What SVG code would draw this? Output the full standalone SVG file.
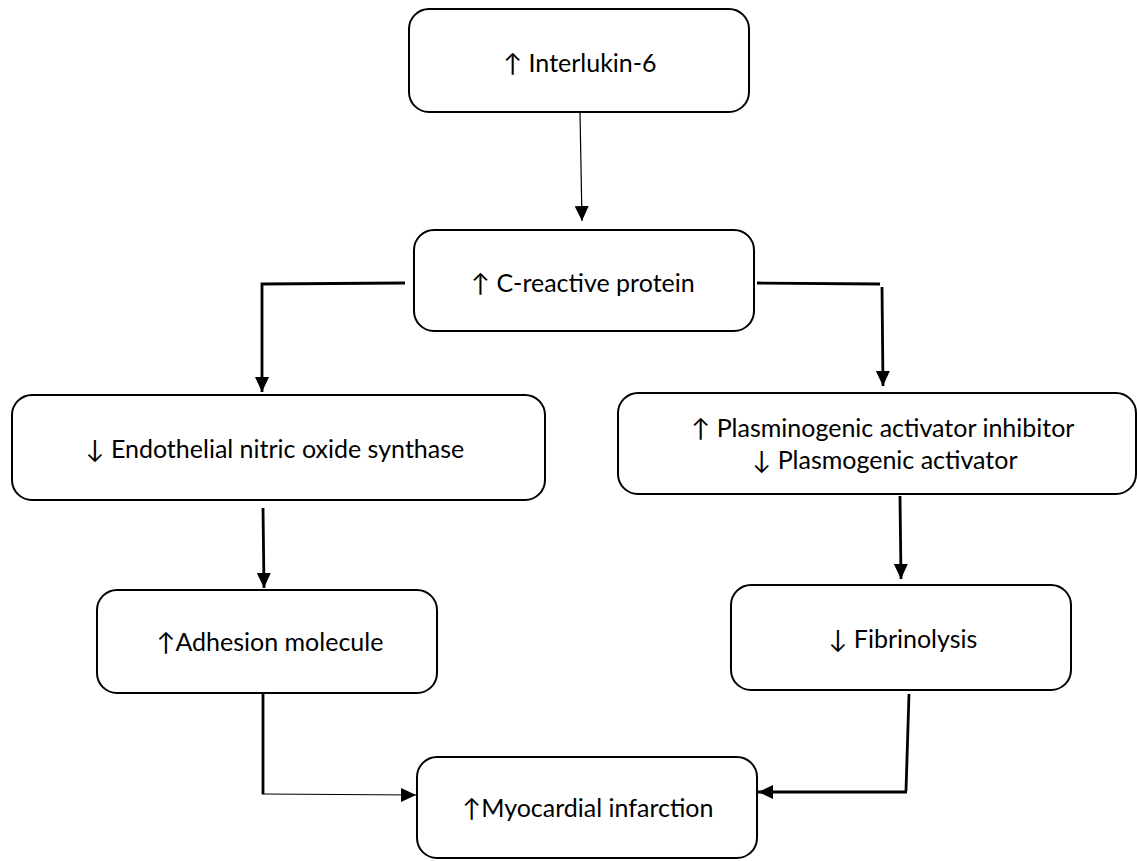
<svg xmlns="http://www.w3.org/2000/svg" width="1137" height="861" viewBox="0 0 1137 861">
<style>
.box{fill:#fff;stroke:#000;stroke-width:2}
.t{font-family:Lato,"Open Sans",sans-serif;font-size:25px;fill:#000;text-anchor:middle}
.thick{fill:none;stroke:#000;stroke-width:2.8}
.thin{fill:none;stroke:#000;stroke-width:1.2}
</style>
<defs>
<marker id="ah" markerUnits="userSpaceOnUse" markerWidth="16" markerHeight="16" viewBox="0 0 16 16" refX="15" refY="8" orient="auto">
<path d="M0,1 L15,8 L0,15 Z" fill="#000"/>
</marker>
</defs>
<rect width="1137" height="861" fill="#fff"/>
<g id="connectors">
<path class="thin" d="M580,113 L582,221" marker-end="url(#ah)" stroke="#333"/>
<path class="thick" d="M405,283 L262,284 L262,392" marker-end="url(#ah)"/>
<path class="thick" d="M757,283 L880,284"/>
<path class="thick" d="M882,287 L883,386" marker-end="url(#ah)"/>
<path class="thick" d="M263,508 L264,588" marker-end="url(#ah)"/>
<path class="thick" d="M900,496 L901,579" marker-end="url(#ah)"/>
<path class="thick" d="M263,693 L263,794"/>
<path class="thin" d="M262,794 L416,795" marker-end="url(#ah)"/>
<path class="thick" d="M909,694 L906,791"/>
<path class="thick" d="M907,792 L758,792" marker-end="url(#ah)"/>
</g>
<g id="n1"><rect class="box" x="409" y="9" width="340" height="103" rx="20"/><text class="t" x="580" y="72">↑ Interlukin-6</text></g>
<g id="n2"><rect class="box" x="414" y="230" width="340" height="101" rx="20"/><text class="t" x="583" y="292">↑ C-reactive protein</text></g>
<g id="n3"><rect class="box" x="12" y="395" width="533" height="105" rx="20"/><text class="t" x="275" y="458">↓ Endothelial nitric oxide synthase</text></g>
<g id="n4"><rect class="box" x="618" y="393" width="518" height="101" rx="20"/><text class="t" x="883" y="437">↑ Plasminogenic activator inhibitor</text><text class="t" x="885" y="469">↓ Plasmogenic activator</text></g>
<g id="n5"><rect class="box" x="97" y="590" width="340" height="103" rx="20"/><text class="t" x="270" y="651">↑Adhesion molecule</text></g>
<g id="n6"><rect class="box" x="731" y="585" width="340" height="105" rx="20"/><text class="t" x="903" y="648">↓ Fibrinolysis</text></g>
<g id="n7"><rect class="box" x="417" y="757" width="340" height="101" rx="20"/><text class="t" x="588" y="817">↑Myocardial infarction</text></g>
</svg>
